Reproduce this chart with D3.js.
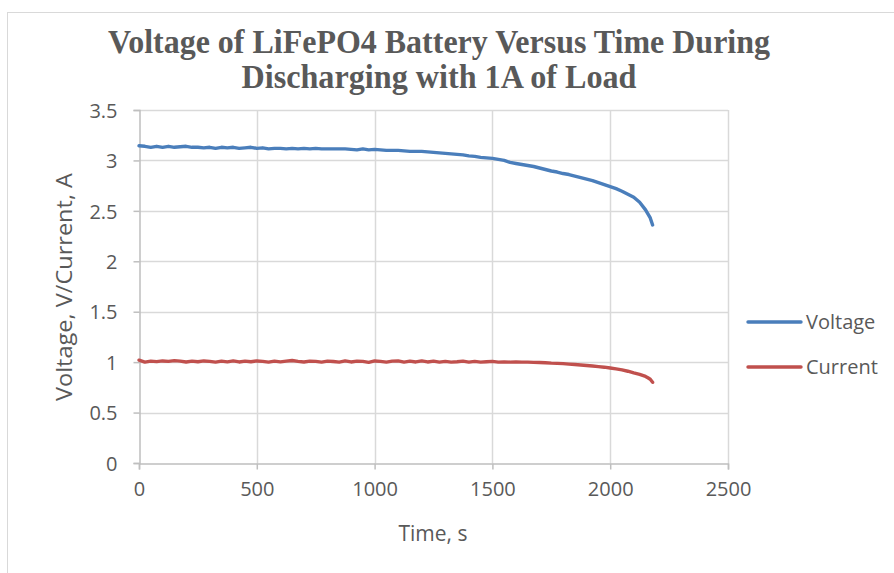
<!DOCTYPE html>
<html><head><meta charset="utf-8">
<script src="https://cdn.jsdelivr.net/npm/d3@7"></script>
<style>
html,body{margin:0;padding:0;background:#fff;}
svg{display:block;}
</style></head>
<body>
<svg id="chart" width="894" height="573"></svg>
<script>
const titleLines = ["Voltage of LiFePO4 Battery Versus Time During", "Discharging with 1A of Load"];
const xTicks = [0, 500, 1000, 1500, 2000, 2500];
const yTicks = [0, 0.5, 1, 1.5, 2, 2.5, 3, 3.5];
const seriesNames = ["Voltage", "Current"];
const seriesColors = ["#4A7EBB", "#C0504D"];
const timeS = [0,25,50,75,100,125,150,175,200,225,250,275,300,325,350,375,400,425,450,475,
  500,525,550,575,600,625,650,675,700,725,750,775,800,825,850,875,900,925,950,975,
  1000,1025,1050,1075,1100,1125,1150,1175,1200,1225,1250,1275,1300,1325,1350,1375,1400,1425,1450,1475,
  1500,1525,1550,1575,1600,1625,1650,1675,1700,1725,1750,1775,1800,1825,1850,1875,1900,1925,1950,1975,
  2000,2025,2050,2075,2100,2125,2150,2160,2170,2180];
const voltage = [3.145,3.14,3.13,3.14,3.13,3.14,3.13,3.135,3.14,3.13,3.13,3.125,3.13,3.12,3.13,3.125,3.13,3.12,3.125,3.13,
  3.12,3.125,3.115,3.12,3.12,3.115,3.12,3.115,3.12,3.115,3.12,3.115,3.115,3.115,3.115,3.115,3.11,3.105,3.115,3.105,
  3.11,3.105,3.10,3.10,3.10,3.095,3.09,3.09,3.09,3.085,3.08,3.075,3.07,3.065,3.06,3.055,3.045,3.04,3.03,3.025,
  3.02,3.01,3.00,2.98,2.97,2.96,2.95,2.94,2.925,2.91,2.895,2.885,2.87,2.86,2.845,2.83,2.815,2.80,2.78,2.76,
  2.74,2.72,2.695,2.665,2.635,2.585,2.51,2.47,2.43,2.36];
const current = [1.02,1.00,1.01,1.005,1.012,1.008,1.015,1.01,1.002,1.01,1.004,1.012,1.008,1.0,1.01,1.003,1.012,1.002,1.01,1.004,
  1.012,1.008,1.0,1.01,1.003,1.01,1.016,1.008,1.002,1.01,1.008,1.0,1.01,1.006,1.0,1.012,1.002,1.01,1.008,0.998,
  1.012,1.008,1.0,1.01,1.012,1.0,1.01,1.002,1.012,1.002,1.01,1.0,1.008,1.0,1.004,1.01,1.0,1.008,1.0,1.004,
  1.008,1.0,1.002,1.0,1.002,1.0,1.0,0.998,0.996,0.994,0.99,0.988,0.985,0.98,0.976,0.972,0.967,0.962,0.956,0.95,
  0.942,0.933,0.923,0.91,0.893,0.878,0.858,0.845,0.83,0.80];

const svg = d3.select("#chart");
const textColor = "#595959";
const gridColor = "#D9D9D9";

// chart frame
svg.append("rect").attr("x", 7.5).attr("y", 12.5).attr("width", 920).attr("height", 600)
  .attr("fill", "none").attr("stroke", gridColor).attr("stroke-width", 1);

const x = d3.scaleLinear().domain([0, 2500]).range([139, 728]);
const y = d3.scaleLinear().domain([0, 3.5]).range([463, 110]);

// title
const tLens = [662, 395];
svg.append("g").selectAll("text").data(titleLines).join("text")
  .attr("x", 439).attr("y", (d, i) => 53 + i * 35)
  .attr("text-anchor", "middle")
  .attr("font-family", "'Liberation Serif', 'Times New Roman', serif")
  .attr("font-weight", "bold").attr("font-size", 34)
  .attr("fill", textColor)
  .attr("textLength", (d, i) => tLens[i]).attr("lengthAdjust", "spacingAndGlyphs")
  .text(d => d);

// gridlines
svg.append("g").selectAll("line.h").data(yTicks.slice(1)).join("line")
  .attr("x1", x(0)).attr("x2", x(2500)).attr("y1", d => Math.round(y(d)) + 0.5).attr("y2", d => Math.round(y(d)) + 0.5)
  .attr("stroke", gridColor).attr("stroke-width", 1.5);
svg.append("g").selectAll("line.v").data(xTicks.slice(1)).join("line")
  .attr("y1", y(0)).attr("y2", y(3.5)).attr("x1", d => Math.round(x(d)) + 0.5).attr("x2", d => Math.round(x(d)) + 0.5)
  .attr("stroke", gridColor).attr("stroke-width", 1.5);

const font = "'Open Sans', 'Noto Sans', sans-serif";
// axes
const xAxis = svg.append("g").attr("transform", `translate(0,${Math.round(y(0)) + 0.5})`)
  .call(d3.axisBottom(x).tickValues(xTicks).tickSize(6).tickPadding(12).tickFormat(d3.format("d")));
const yAxis = svg.append("g").attr("transform", `translate(${Math.round(x(0)) + 0.5},0)`)
  .call(d3.axisLeft(y).tickValues(yTicks).tickSize(6).tickPadding(16).tickFormat(d => String(d)));
[xAxis, yAxis].forEach(a => {
  a.select(".domain").attr("stroke", "#BFBFBF").attr("stroke-width", 1.5);
  a.selectAll(".tick line").attr("stroke", "#BFBFBF").attr("stroke-width", 1.5);
  a.selectAll(".tick text").attr("fill", textColor).attr("font-family", font).attr("font-size", 20);
});
yAxis.selectAll(".tick text").attr("dy", "0.36em");

// axis titles
svg.append("text").attr("x", 433).attr("y", 541).attr("text-anchor", "middle")
  .attr("font-family", font).attr("font-size", 21).attr("fill", textColor).text("Time, s");
svg.append("text").attr("transform", "translate(72,287) rotate(-90)").attr("text-anchor", "middle")
  .attr("font-family", font).attr("font-size", 21).attr("fill", textColor)
  .attr("textLength", 228).attr("lengthAdjust", "spacingAndGlyphs")
  .text("Voltage, V/Current, A");

// series
const line = d3.line().x(d => x(d[0])).y(d => y(d[1]));
const seriesData = [voltage, current].map(vals => timeS.map((t, i) => [t, vals[i]]));
svg.append("g").selectAll("path").data(seriesData).join("path")
  .attr("d", line).attr("fill", "none")
  .attr("stroke", (d, i) => seriesColors[i]).attr("stroke-width", 3.4)
  .attr("stroke-linejoin", "round").attr("stroke-linecap", "round");

// legend
const leg = svg.append("g").selectAll("g").data(seriesNames).join("g")
  .attr("transform", (d, i) => `translate(748,${322 + i * 45})`);
leg.append("line").attr("x1", 0).attr("x2", 53).attr("y1", 0).attr("y2", 0)
  .attr("stroke", (d, i) => seriesColors[i]).attr("stroke-width", 3.4).attr("stroke-linecap", "round");
leg.append("text").attr("x", 58).attr("y", 0).attr("dy", "0.36em")
  .attr("font-family", font).attr("font-size", 20).attr("fill", textColor).text(d => d);
</script>
</body></html>
